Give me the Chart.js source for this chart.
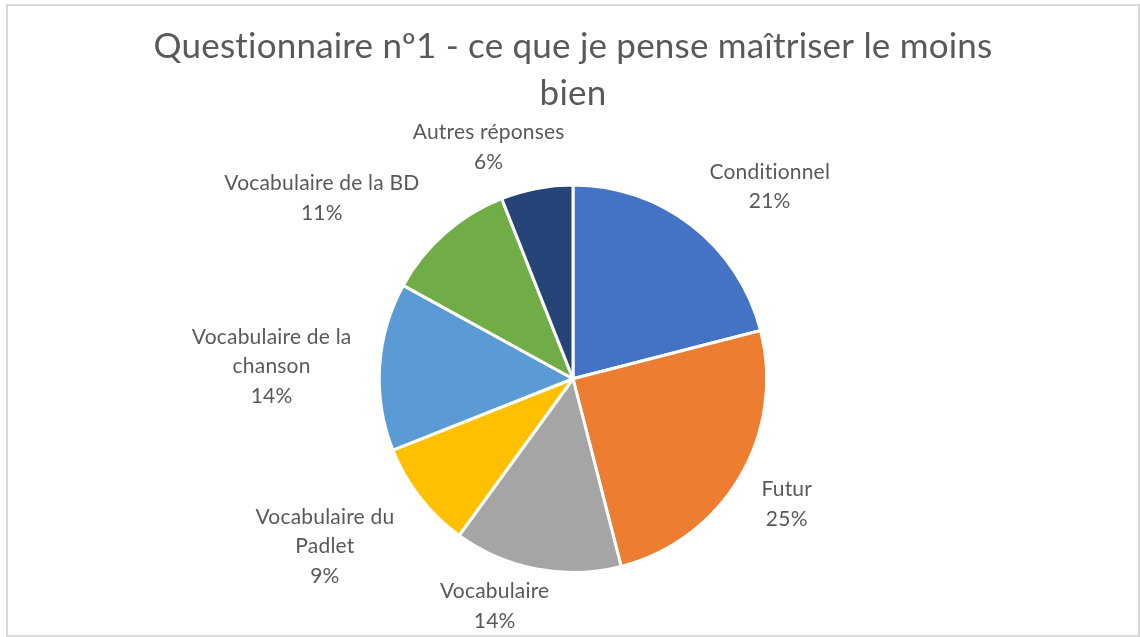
<!DOCTYPE html>
<html>
<head>
<meta charset="utf-8">
<script src="https://cdn.jsdelivr.net/npm/chart.js@4"></script>
<style>
  html, body { margin: 0; padding: 0; background: #fff; }
  #wrap { width: 1140px; height: 637px; }
</style>
</head>
<body>
<div id="wrap"><canvas id="pieChart" width="1140" height="637"></canvas></div>
<script>
var categories = ['Conditionnel', 'Futur', 'Vocabulaire', 'Vocabulaire du Padlet',
  'Vocabulaire de la chanson', 'Vocabulaire de la BD', 'Autres réponses'];
var percents = [21, 25, 14, 9, 14, 11, 6];
var colors = ['#4472C4', '#ED7D31', '#A5A5A5', '#FFC000', '#5B9BD5', '#70AD47', '#264478'];

// label placement (offset from slice edge midpoint) and wrap width, style only
var labelOffsets = [[78, -39], [47, 27], [-42, 37], [-95, 49], [-108, 0], [-123, -35], [-48, -41]];
var wrapWidths = [220, 220, 220, 150, 185, 240, 220];

var textColor = '#595959';
var fontFamily = 'Lato, "Open Sans", sans-serif';

function wrapText(ctx, text, maxW) {
    var words = text.split(' ');
    var lines = [];
    var cur = '';
    words.forEach(function (w) {
        var test = cur ? cur + ' ' + w : w;
        if (cur && ctx.measureText(test).width > maxW) {
            lines.push(cur);
            cur = w;
        } else {
            cur = test;
        }
    });
    if (cur) lines.push(cur);
    return lines;
}

var frame = {
    id: 'frame',
    beforeDraw: function (chart) {
        var ctx = chart.ctx;
        ctx.save();
        ctx.fillStyle = '#fff';
        ctx.fillRect(0, 0, chart.width, chart.height);
        ctx.strokeStyle = '#d9d9d9';
        ctx.lineWidth = 2;
        ctx.strokeRect(7, 5, chart.width - 8, chart.height - 6);
        ctx.restore();
        // tiny spacing so the "ti" ligature is not used
        ctx.letterSpacing = '0.2px';
    }
};

var outsideLabels = {
    id: 'outsideLabels',
    afterDatasetsDraw: function (chart) {
        var ctx = chart.ctx;
        var meta = chart.getDatasetMeta(0);
        ctx.save();
        ctx.font = '21px ' + fontFamily;
        ctx.fillStyle = textColor;
        ctx.textAlign = 'center';
        ctx.textBaseline = 'middle';
        var lh = 29.5;
        meta.data.forEach(function (arc, i) {
            var mid = (arc.startAngle + arc.endAngle) / 2;
            var ax = arc.x + Math.cos(mid) * arc.outerRadius;
            var ay = arc.y + Math.sin(mid) * arc.outerRadius;
            var cx = ax + labelOffsets[i][0];
            var cy = ay + labelOffsets[i][1];
            var lines = wrapText(ctx, categories[i], wrapWidths[i]);
            lines.push(percents[i] + '%');
            var top = cy - (lines.length - 1) * lh / 2;
            lines.forEach(function (ln, k) {
                ctx.fillText(ln, cx, top + k * lh);
            });
        });
        ctx.restore();
    }
};

var ctx = document.getElementById('pieChart').getContext('2d');
var chart = new Chart(ctx, {
    type: 'pie',
    data: {
        labels: categories,
        datasets: [{
            data: percents,
            backgroundColor: colors,
            borderColor: '#ffffff',
            borderWidth: 3
        }]
    },
    options: {
        responsive: false,
        animation: false,
        layout: { padding: { top: 23, bottom: 63, left: 6, right: 0 } },
        plugins: {
            legend: { display: false },
            tooltip: { enabled: false },
            title: {
                display: true,
                text: ['Questionnaire nº1 - ce que je pense maîtriser le moins', 'bien'],
                color: textColor,
                font: { family: fontFamily, size: 35, weight: 'normal', lineHeight: 1.35 },
                padding: { top: 0, bottom: 66 }
            }
        }
    },
    plugins: [frame, outsideLabels]
});
</script>
</body>
</html>
